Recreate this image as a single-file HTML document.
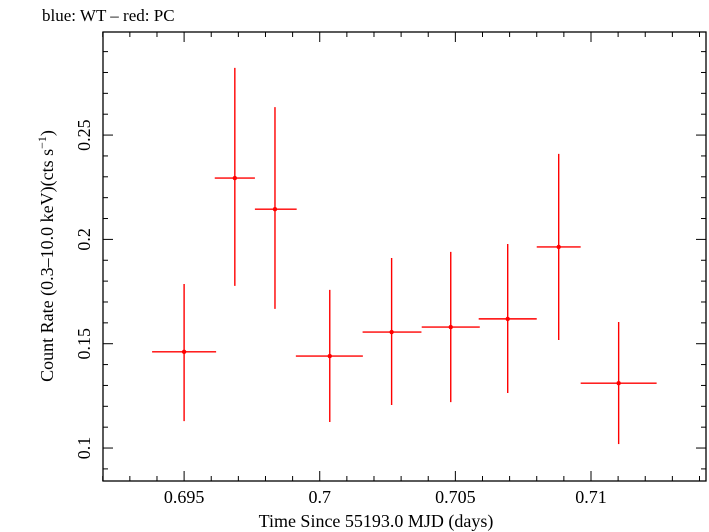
<!DOCTYPE html>
<html><head><meta charset="utf-8"><style>
body{margin:0;background:#fff;}
svg{display:block;font-family:"Liberation Serif",serif;}
</style></head><body>
<svg id="chart" width="709" height="532">
<text x="42" y="21" font-size="17">blue: WT – red: PC</text>
<rect x="103" y="32" width="603" height="449" fill="none" stroke="#000" stroke-width="1.3"/>
<g id="axes"></g>
<g id="marks"></g>
<text x="376" y="527" font-size="18" text-anchor="middle">Time Since 55193.0 MJD (days)</text>
<text transform="translate(53,256) rotate(-90)" font-size="18" text-anchor="middle">Count Rate (0.3–10.0 keV)(cts s<tspan dy="-7" font-size="12">−1</tspan><tspan dy="7">)</tspan></text>
</svg>
<script>
const times=[0.695,0.69687,0.69835,0.70037,0.70265,0.70483,0.70693,0.70881,0.71102];
const timeErrLo=[0.00118,0.00074,0.00074,0.00125,0.00107,0.00107,0.00107,0.00081,0.00140];
const timeErrHi=[0.00118,0.00074,0.00080,0.00122,0.00110,0.00107,0.00107,0.00081,0.00140];
const rates=[0.1461,0.2294,0.2145,0.1441,0.1556,0.158,0.1619,0.1964,0.1311];
const rateHi=[0.1786,0.2822,0.2634,0.1758,0.1911,0.194,0.1978,0.241,0.1604];
const rateLo=[0.1129,0.1777,0.1667,0.1125,0.1206,0.122,0.1264,0.1518,0.1019];
const xTickLabels=["0.695","0.7","0.705","0.71"];
const yTickLabels=["0.1","0.15","0.2","0.25"];
const L=103,R=706,T=32,B=481,X0=0.69201,X1=0.71424,Y0=0.0842,Y1=0.2994;
const sx=v=>L+(v-X0)/(X1-X0)*(R-L);
const sy=v=>B-(v-Y0)/(Y1-Y0)*(B-T);
const NS="http://www.w3.org/2000/svg";
const axes=document.getElementById('axes'),marks=document.getElementById('marks');
function line(p,x1,y1,x2,y2,c,w){const e=document.createElementNS(NS,'line');e.setAttribute('x1',x1);e.setAttribute('y1',y1);e.setAttribute('x2',x2);e.setAttribute('y2',y2);e.setAttribute('stroke',c);e.setAttribute('stroke-width',w);p.appendChild(e);return e;}
for(let i=692;i<=714;i++){const v=i/1000,x=sx(v);const maj=i%5===0,len=maj?10:5;
 const a=line(axes,x,B,x,B-len,'#000',1);
 
 
 const b=line(axes,x,T,x,T+len,'#000',1);
 
 }
for(let i=9;i<=29;i++){const v=i/100,y=sy(v);if(y<T||y>B)continue;const maj=i%5===0,len=maj?10:5;
 const a=line(axes,L,y,L+len,y,'#000',1);
 
 
 const b=line(axes,R,y,R-len,y,'#000',1);
 
 }
xTickLabels.forEach(s=>{const t=document.createElementNS(NS,'text');t.setAttribute('x',sx(parseFloat(s)));t.setAttribute('y',503);t.setAttribute('font-size','18');t.setAttribute('text-anchor','middle');t.textContent=s;
 
 
 axes.appendChild(t);});
yTickLabels.forEach(s=>{const y=sy(parseFloat(s));const t=document.createElementNS(NS,'text');t.setAttribute('transform','translate(90,'+y+') rotate(-90)');t.setAttribute('font-size','18');t.setAttribute('text-anchor','middle');t.textContent=s;
 
 
 axes.appendChild(t);});
times.forEach((v,i)=>{const g=document.createElementNS(NS,'g');
 
 
 line(g,sx(v-timeErrLo[i]),sy(rates[i]),sx(v+timeErrHi[i]),sy(rates[i]),'#f00',1.4);
 line(g,sx(v),sy(rateHi[i]),sx(v),sy(rateLo[i]),'#f00',1.4);
 const c=document.createElementNS(NS,'circle');c.setAttribute('cx',sx(v));c.setAttribute('cy',sy(rates[i]));c.setAttribute('r',2.2);c.setAttribute('fill','#f00');g.appendChild(c);
 marks.appendChild(g);});
</script>
</body></html>
